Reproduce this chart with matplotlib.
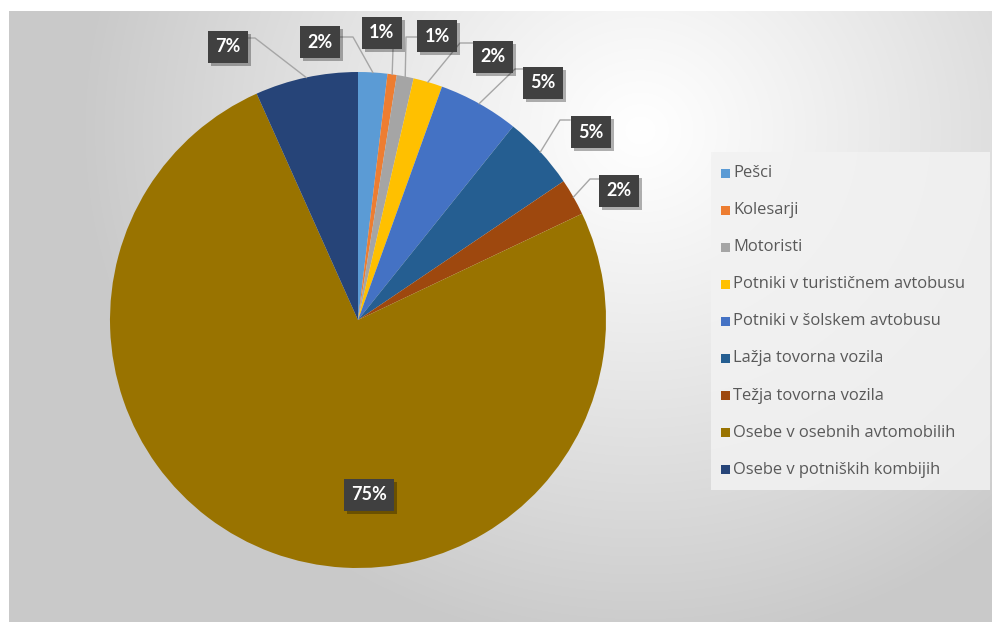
import numpy as np
import matplotlib
matplotlib.use("Agg")
import matplotlib.pyplot as plt
from matplotlib.patches import Rectangle
from matplotlib import patheffects as pe

# data
categories = ["Pešci", "Kolesarji", "Motoristi", "Potniki v turističnem avtobusu",
              "Potniki v šolskem avtobusu", "Lažja tovorna vozila", "Težja tovorna vozila",
              "Osebe v osebnih avtomobilih", "Osebe v potniških kombijih"]
shares = [1.9, 0.6, 1.1, 1.9, 5.25, 4.8, 2.4, 75.35, 6.7]
colors = ["#5B9BD5", "#ED7D31", "#A5A5A5", "#FFC000", "#4472C4",
          "#255E91", "#9E480E", "#997300", "#264478"]

# label layout in pixels (box centre, elbow of leader line, box side the line leaves from)
W, H = 992, 622
label_xy = [(320, 42), (382, 33), (437, 36), (493, 57), (543, 83),
            (591, 132), (619, 191), (369, 495), (228, 47)]
elbow_xy = [(353, 37), (393, 49), (406, 37), (460, 43), (515, 69),
            (560, 120), (590, 179), None, (255, 38)]
start_xy = [(340, 37), (393, 49), (417, 37), (473, 43), (523, 69),
            (570, 120), (600, 179), None, (247, 38)]

plt.rcParams['font.family'] = ['Lato', 'DejaVu Sans']

fig = plt.figure(figsize=(W / 100, H / 100), dpi=100)
fig.patch.set_facecolor("white")

# gradient background of the chart area
x0, y0 = 9, 11
bg = fig.add_axes([x0 / W, 0, 1 - x0 / W, 1 - y0 / H])
bg.set_axis_off()
gx, gy = np.meshgrid(np.arange(x0, W), np.arange(y0, H))
r = np.sqrt(((gx - 640) / 560.0) ** 2 + ((gy - 130) / 520.0) ** 2)
shade = 1.0 - 0.21 * np.clip(r, 0, 1) ** 1.1
bg.imshow(np.dstack([shade] * 3), aspect="auto", interpolation="bilinear")

# main axes in pixel units (y measured upward)
ax = fig.add_axes([0, 0, 1, 1])
ax.patch.set_alpha(0)

cx, cy, rad = 358, H - 320, 248
wedges, _ = ax.pie(shares, colors=colors, startangle=90, counterclock=False,
                   center=(cx, cy), radius=rad, wedgeprops=dict(linewidth=0),
                   frame=True)
ax.set_xlim(0, W)
ax.set_ylim(0, H)
ax.set_aspect("equal")
ax.set_axis_off()

shadow = [pe.SimplePatchShadow(offset=(2, -2), shadow_rgbFace="black", alpha=0.3), pe.Normal()]
for i, w in enumerate(wedges):
    mid = np.deg2rad((w.theta1 + w.theta2) / 2)
    lx, ly = label_xy[i]
    if elbow_xy[i] is not None:
        ex, ey = cx + rad * np.cos(mid), cy + rad * np.sin(mid)
        sx, sy = start_xy[i]
        bx, by = elbow_xy[i]
        ax.plot([sx, bx, ex], [H - sy, H - by, ey], color="#a6a6a6", lw=1, zorder=3)
    txt = f"{round(shares[i]):.0f}%"
    t = ax.text(lx, H - ly, txt, ha="center", va="center", fontsize=13,
                fontweight="bold", color="white", zorder=5,
                bbox=dict(boxstyle="square,pad=0.4", fc="#404040", ec="none"))
    t.get_bbox_patch().set_path_effects(shadow)

# legend
ax.add_patch(Rectangle((711, H - 490), 279, 338, fc="#f2f2f2", ec="none", alpha=0.85, zorder=2))
for i, name in enumerate(categories):
    yy = H - (173 + i * 37.1)
    ax.add_patch(Rectangle((721, yy - 4.5), 9, 9, fc=colors[i], ec="none", zorder=3))
    ax.text(733, yy, name, ha="left", va="center", fontsize=11.9, color="#595959",
            family=["Open Sans", "DejaVu Sans"], zorder=3)

fig.savefig("out.png", dpi=100)
